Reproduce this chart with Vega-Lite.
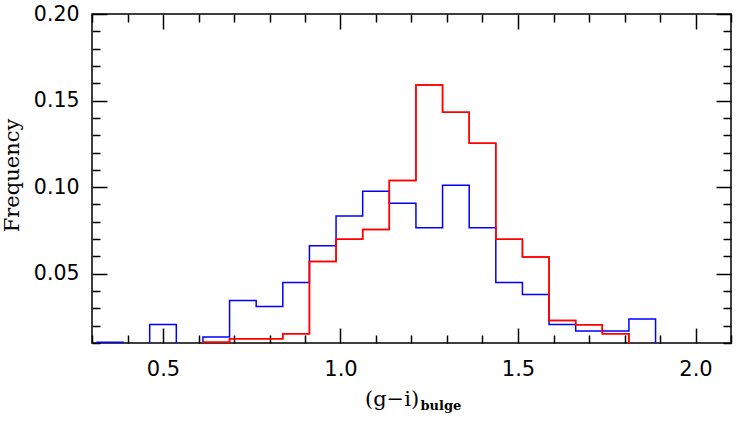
{
  "$schema": "https://vega.github.io/schema/vega-lite/v6.json",
  "width": 639,
  "height": 329,
  "autosize": "none",
  "padding": {"left": 92, "top": 14, "right": 16, "bottom": 79},
  "background": "white",
  "config": {
    "view": {"stroke": "black", "strokeWidth": 1.5},
    "axis": {"grid": false, "domain": false, "labelFlush": false, "labelOverlap": false, "labelBound": false}
  },
  "datasets": {
    "blue": [
      {"x": 0.3125, "f": 0.0105},
      {"x": 0.3875, "f": 0},
      {"x": 0.4625, "f": 0.0207},
      {"x": 0.5375, "f": 0},
      {"x": 0.6125, "f": 0.0134},
      {"x": 0.6875, "f": 0.0346},
      {"x": 0.7625, "f": 0.0311},
      {"x": 0.8375, "f": 0.0449},
      {"x": 0.9125, "f": 0.0661},
      {"x": 0.9875, "f": 0.0834},
      {"x": 1.0625, "f": 0.0976},
      {"x": 1.1375, "f": 0.0907},
      {"x": 1.2125, "f": 0.0765},
      {"x": 1.2875, "f": 0.1011},
      {"x": 1.3625, "f": 0.0765},
      {"x": 1.4375, "f": 0.0449},
      {"x": 1.5125, "f": 0.038},
      {"x": 1.5875, "f": 0.0207},
      {"x": 1.6625, "f": 0.0169},
      {"x": 1.7375, "f": 0.0169},
      {"x": 1.8125, "f": 0.0238},
      {"x": 1.8875, "f": 0}
    ],
    "red": [
      {"x": 0.5375, "f": 0},
      {"x": 0.6125, "f": 0.0105},
      {"x": 0.6875, "f": 0.0125},
      {"x": 0.7625, "f": 0.0125},
      {"x": 0.8375, "f": 0.0153},
      {"x": 0.9125, "f": 0.0571},
      {"x": 0.9875, "f": 0.0699},
      {"x": 1.0625, "f": 0.0755},
      {"x": 1.1375, "f": 0.1038},
      {"x": 1.2125, "f": 0.159},
      {"x": 1.2875, "f": 0.1432},
      {"x": 1.3625, "f": 0.1253},
      {"x": 1.4375, "f": 0.0699},
      {"x": 1.5125, "f": 0.0596},
      {"x": 1.5875, "f": 0.023},
      {"x": 1.6625, "f": 0.0205},
      {"x": 1.7375, "f": 0.0153},
      {"x": 1.8125, "f": 0}
    ]
  },
  "layer": [
    {
      "data": {"name": "blue"},
      "mark": {"type": "line", "interpolate": "step-after", "color": "#0000ff", "strokeWidth": 1.5, "clip": true},
      "encoding": {
        "x": {
          "field": "x", "type": "quantitative",
          "scale": {"domain": [0.3, 2.1], "nice": false, "zero": false},
          "axis": {
            "orient": "bottom",
            "values": [0.3,0.4,0.5,0.6,0.7,0.8,0.9,1.0,1.1,1.2,1.3,1.4,1.5,1.6,1.7,1.8,1.9,2.0,2.1],
            "labelExpr": "abs(datum.value*2 - round(datum.value*2)) < 0.001 ? format(datum.value, '.1f') : ''",
            "tickSize": {"condition": {"test": "abs(datum.value*2 - round(datum.value*2)) < 0.001", "value": -15}, "value": -8},
            "tickColor": "black", "tickWidth": 1.5,
            "labelFont": "DejaVu Sans", "labelFontSize": 21, "labelColor": "black", "labelPadding": 30,
            "title": "(g\u2212i)", "titleFont": "DejaVu Serif", "titleFontSize": 21, "titleFontWeight": "normal", "titleColor": "black",
            "titleX": 299.5, "titleY": 62, "titleAlign": "center", "titleBaseline": "alphabetic"
          }
        },
        "y": {
          "field": "f", "type": "quantitative",
          "scale": {"domain": [0.01, 0.2], "nice": false, "zero": false},
          "axis": {
            "orient": "left",
            "values": [0.01,0.02,0.03,0.04,0.05,0.06,0.07,0.08,0.09,0.10,0.11,0.12,0.13,0.14,0.15,0.16,0.17,0.18,0.19,0.20],
            "labelExpr": "abs(datum.value*20 - round(datum.value*20)) < 0.001 ? format(datum.value, '.2f') : ''",
            "tickSize": {"condition": {"test": "abs(datum.value*20 - round(datum.value*20)) < 0.001", "value": -15}, "value": -8},
            "tickColor": "black", "tickWidth": 1.5,
            "labelFont": "DejaVu Sans", "labelFontSize": 20.5, "labelColor": "black", "labelPadding": 28,
            "title": "Frequency", "titleFont": "DejaVu Serif", "titleFontSize": 21, "titleFontWeight": "normal", "titleColor": "black",
            "titleX": -80, "titleY": 161, "titleAlign": "center", "titleBaseline": "middle", "titleAngle": -90
          }
        }
      }
    },
    {
      "data": {"name": "red"},
      "mark": {"type": "line", "interpolate": "step-after", "color": "#ff0000", "strokeWidth": 1.5, "clip": true},
      "encoding": {
        "x": {
          "field": "x", "type": "quantitative",
          "axis": {
            "orient": "top",
            "values": [0.3,0.4,0.5,0.6,0.7,0.8,0.9,1.0,1.1,1.2,1.3,1.4,1.5,1.6,1.7,1.8,1.9,2.0,2.1],
            "labels": false,
            "tickSize": {"condition": {"test": "abs(datum.value*2 - round(datum.value*2)) < 0.001", "value": -15}, "value": -8},
            "tickColor": "black", "tickWidth": 1.5,
            "title": null
          }
        },
        "y": {
          "field": "f", "type": "quantitative",
          "axis": {
            "orient": "right",
            "values": [0.01,0.02,0.03,0.04,0.05,0.06,0.07,0.08,0.09,0.10,0.11,0.12,0.13,0.14,0.15,0.16,0.17,0.18,0.19,0.20],
            "labels": false,
            "tickSize": {"condition": {"test": "abs(datum.value*20 - round(datum.value*20)) < 0.001", "value": -15}, "value": -8},
            "tickColor": "black", "tickWidth": 1.5,
            "title": null
          }
        }
      }
    },
    {
      "data": {"name": "red"},
      "mark": {"type": "line", "interpolate": "step-after", "color": "#ff0000", "strokeWidth": 1.5, "clip": true},
      "encoding": {
        "x": {
          "field": "x", "type": "quantitative",
          "axis": {
            "orient": "bottom",
            "ticks": false, "labels": false, "domain": false,
            "title": "bulge", "titleFont": "DejaVu Serif", "titleFontSize": 13, "titleFontWeight": "bold", "titleColor": "black",
            "titleX": 328, "titleY": 66, "titleAlign": "left", "titleBaseline": "alphabetic"
          }
        },
        "y": {"field": "f", "type": "quantitative", "axis": null}
      }
    }
  ],
  "resolve": {"axis": {"x": "independent", "y": "independent"}}
}
